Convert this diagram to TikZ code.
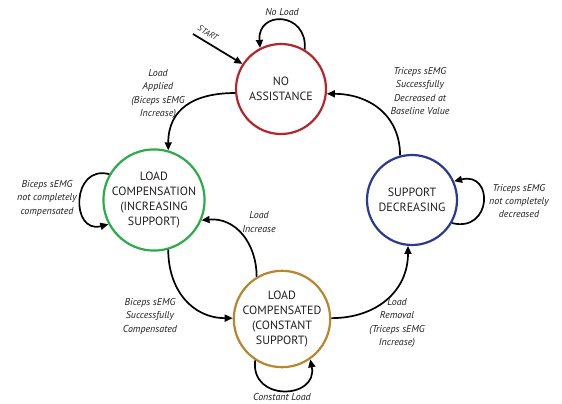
\documentclass[tikz,border=0pt]{standalone}
\usepackage{fontspec}
\setmainfont{PT Sans}
\usetikzlibrary{arrows.meta}
\definecolor{cred}{HTML}{B3262C}
\definecolor{cgreen}{HTML}{2DAA4A}
\definecolor{cblue}{HTML}{2B3990}
\definecolor{cbrown}{HTML}{B7862F}
\definecolor{ctext}{HTML}{231F20}
\begin{document}
\begin{tikzpicture}[x=1bp,y=1bp,
  state/.style={circle, draw, line width=2.2bp, minimum size=90bp, inner sep=0pt, align=center, text=ctext, font=\fontsize{12}{15}\selectfont},
  lbl/.style={align=center, inner sep=0pt, text=ctext, font=\fontsize{10}{13.5}\selectfont\itshape},
  tr/.style={-{Triangle[length=8bp,width=7bp]}, line width=1.7bp, draw=black}
]
\useasboundingbox (0,0) rectangle (562,403);
\node[state, draw=cred] (noa) at (281,314) {NO\\ASSISTANCE};
\node[state, draw=cgreen] (lc) at (154,203) {LOAD\\COMPENSATION\\(INCREASING\\SUPPORT)};
\node[state, draw=cblue] (sd) at (412,203) {SUPPORT\\DECREASING};
\node[state, draw=cbrown] (lcd) at (282,84) {LOAD\\COMPENSATED\\(CONSTANT\\SUPPORT)};

\coordinate (s) at (193,369);
\draw[tr] (s) -- (noa.147);
\node[lbl, rotate=-31, font=\fontsize{8.5}{10}\selectfont\itshape] (startlbl) at (208,370) {START};

\draw[tr] (noa.59) .. controls +(3,38) and +(-3,38) .. (noa.117);
\node[lbl] (nl) at (282,391) {No Load};

\draw[tr] (noa.185) to[out=180, in=90, looseness=1.2] (lc.74);
\node[lbl] (la) at (158,309) {Load\\Applied\\(Biceps sEMG\\Increase)};

\draw[tr] (sd.105) to[out=90, in=0, looseness=1.1] (noa.-6);
\node[lbl] (tsd) at (420,312) {Triceps sEMG\\Successfully\\Decreased at\\Baseline Value};

\draw[tr] (lc.150) .. controls +(-38,10) and +(-38,-10) .. (lc.208);
\node[lbl] (bnc) at (47,205) {Biceps sEMG\\not completely\\compensated};

\draw[tr] (lcd.121) to[out=90, in=5, looseness=1.1] (lc.-23);
\node[lbl] (li) at (259,181) {Load\\Increase};

\draw[tr] (lc.-74) to[out=-90, in=180, looseness=1.1] (lcd.179);
\node[lbl] (bsc) at (150,87) {Biceps sEMG\\Successfully\\Compensated};

\draw[tr] (lcd.1) to[out=0, in=-90, looseness=1.1] (sd.-95);
\node[lbl] (lr) at (397,80) {Load\\Removal\\(Triceps sEMG\\Increase)};

\draw[tr] (sd.-30) .. controls +(40,-10) and +(40,10) .. (sd.24);
\node[lbl] (tnc) at (519,202) {Triceps sEMG\\not completely\\decreased};

\draw[tr] (lcd.237) .. controls +(-5,-42) and +(8,-40) .. (lcd.-55);
\node[lbl] (cl) at (282,6) {Constant Load};
\end{tikzpicture}
\end{document}
